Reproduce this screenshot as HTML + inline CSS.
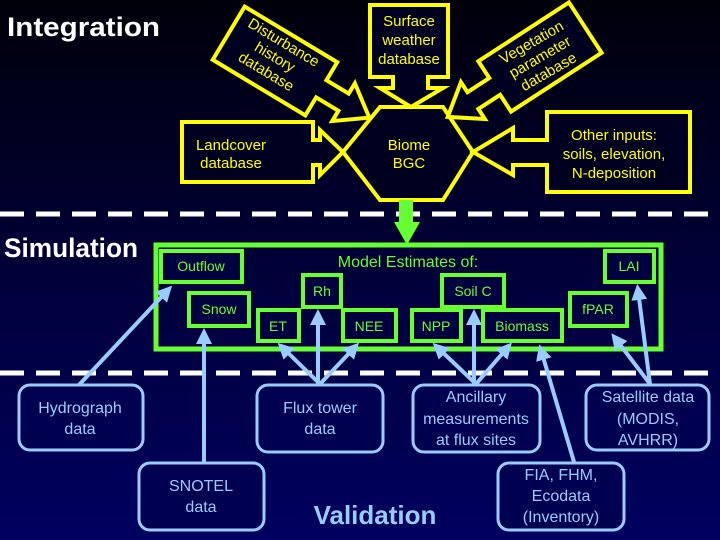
<!DOCTYPE html>
<html><head><meta charset="utf-8"><style>
html,body{margin:0;padding:0;width:720px;height:540px;overflow:hidden;background:#000040}
svg{display:block}
text{font-family:"Liberation Sans",sans-serif}
</style></head><body>
<svg width="720" height="540" viewBox="0 0 720 540" xmlns="http://www.w3.org/2000/svg">
<defs>
<linearGradient id="bg" x1="0" y1="0" x2="0" y2="1">
<stop offset="0" stop-color="#00000a"/><stop offset="0.5" stop-color="#000038"/><stop offset="1" stop-color="#000060"/>
</linearGradient>
<marker id="ah" markerWidth="4" markerHeight="4" refX="2.5" refY="2" orient="auto" markerUnits="strokeWidth">
<path d="M0,0 L4,2 L0,4 z" fill="#99ccff"/>
</marker>
</defs>
<rect width="720" height="540" fill="url(#bg)"/>

<text x="7" y="36" fill="#fff" font-size="27" font-weight="bold" textLength="153" lengthAdjust="spacingAndGlyphs">Integration</text>
<text x="4" y="257" fill="#fff" font-size="27" font-weight="bold" textLength="134" lengthAdjust="spacingAndGlyphs">Simulation</text>

<line x1="0" y1="214" x2="720" y2="214" stroke="#fff" stroke-width="5" stroke-dasharray="24,12"/>
<line x1="0" y1="373" x2="720" y2="373" stroke="#fff" stroke-width="5" stroke-dasharray="24,12"/>

<g stroke="#ffff00" stroke-width="4" fill="#000020" stroke-linejoin="miter">
<polygon points="380,107 443,107 473,152 443,200 380,200 343,152"/>
<polygon points="370,5 448,5 448,77 428,77 428,88 443,88 411,107 380,88 393,88 393,77 370,77"/>
<polygon points="182,122 313,122 313,140 320,140 320,130 343,152 320,175 320,165 313,165 313,182 182,182"/>
<polygon points="547,112 690,112 690,192 547,192 547,165 513,165 513,175 473,152 513,128 513,140 547,140"/>
<g transform="translate(275,61) rotate(31)">
<polygon points="-54,-31 54,-31 54,-10 80,-10 80,-22 110,0 80,22 80,10 54,10 54,31 -54,31"/>
</g>
<g transform="translate(540,57) rotate(-33)">
<polygon points="54,-30 -54,-30 -54,-10 -80,-10 -80,-22 -110,0 -80,22 -80,10 -54,10 -54,30 54,30"/>
</g>
</g>
<g fill="#ffff00" font-size="15" text-anchor="middle">
<text x="409" y="26">Surface</text><text x="409" y="45">weather</text><text x="409" y="64">database</text>
<text x="231" y="150">Landcover</text><text x="231" y="168">database</text>
<text x="409" y="150">Biome</text><text x="409" y="168">BGC</text>
<text x="614" y="140">Other inputs:</text><text x="614" y="159">soils, elevation,</text><text x="614" y="178">N-deposition</text>
<g transform="translate(275,57) rotate(31)"><text x="0" y="-12">Disturbance</text><text x="0" y="5">history</text><text x="0" y="22">database</text></g>
<g transform="translate(540,57) rotate(-30)"><text x="0" y="-12">Vegetation</text><text x="0" y="5">parameter</text><text x="0" y="22">database</text></g>
</g>

<polygon points="399,200 413,200 413,222 420,222 407,245 394,222 399,222" fill="#66ff33"/>
<rect x="156" y="245" width="505" height="104" stroke="#66ff33" stroke-width="5" fill="none"/>
<g stroke="#66ff33" stroke-width="4" fill="#000040">
<rect x="161" y="251" width="81" height="31"/>
<rect x="189" y="293" width="60" height="33"/>
<rect x="303" y="275" width="38" height="32"/>
<rect x="258" y="310" width="41" height="31"/>
<rect x="343" y="310" width="53" height="31"/>
<rect x="442" y="275" width="62" height="32"/>
<rect x="412" y="310" width="49" height="31"/>
<rect x="483" y="310" width="79" height="31"/>
<rect x="570" y="293" width="57" height="33"/>
<rect x="605" y="251" width="49" height="31"/>
</g>
<g fill="#66ff33" font-size="14" text-anchor="middle">
<text x="408" y="267" font-size="16">Model Estimates of:</text>
<text x="201" y="271">Outflow</text>
<text x="219" y="314">Snow</text>
<text x="322" y="296">Rh</text>
<text x="278" y="331">ET</text>
<text x="369" y="331">NEE</text>
<text x="473" y="296">Soil C</text>
<text x="436" y="331">NPP</text>
<text x="522" y="331">Biomass</text>
<text x="598" y="314">fPAR</text>
<text x="629" y="271">LAI</text>
</g>

<g stroke="#99ccff" stroke-width="4" fill="none" marker-end="url(#ah)">
<line x1="78" y1="386" x2="168" y2="290"/>
<line x1="204" y1="462" x2="204" y2="334"/>
<line x1="320" y1="384" x2="282" y2="347"/>
<line x1="318" y1="384" x2="318" y2="315"/>
<line x1="320" y1="384" x2="355" y2="347"/>
<line x1="476" y1="384" x2="437" y2="347"/>
<line x1="474" y1="384" x2="474" y2="315"/>
<line x1="476" y1="384" x2="508" y2="347"/>
<line x1="574" y1="462" x2="541" y2="350"/>
<line x1="650" y1="384" x2="615" y2="338"/>
<line x1="650" y1="384" x2="638" y2="290"/>
</g>
<g stroke="#99ccff" stroke-width="3" fill="#000050">
<rect x="19" y="385" width="124" height="65" rx="11"/>
<rect x="139" y="463" width="125" height="67" rx="11"/>
<rect x="257" y="385" width="126" height="67" rx="11"/>
<rect x="413" y="385" width="127" height="67" rx="11"/>
<rect x="586" y="385" width="123" height="65" rx="11"/>
<rect x="498" y="463" width="126" height="67" rx="11"/>
</g>
<g fill="#99ccff" font-size="16" text-anchor="middle">
<text x="80" y="413">Hydrograph</text><text x="80" y="434">data</text>
<text x="201" y="491">SNOTEL</text><text x="201" y="512">data</text>
<text x="320" y="413">Flux tower</text><text x="320" y="434">data</text>
<text x="476" y="402">Ancillary</text><text x="476" y="424">measurements</text><text x="476" y="445">at flux sites</text>
<text x="648" y="402">Satellite data</text><text x="648" y="424">(MODIS,</text><text x="648" y="445">AVHRR)</text>
<text x="561" y="480">FIA, FHM,</text><text x="561" y="501">Ecodata</text><text x="561" y="522">(Inventory)</text>
<text x="375" y="524" font-size="26" font-weight="bold">Validation</text>
</g>
</svg>
</body></html>
